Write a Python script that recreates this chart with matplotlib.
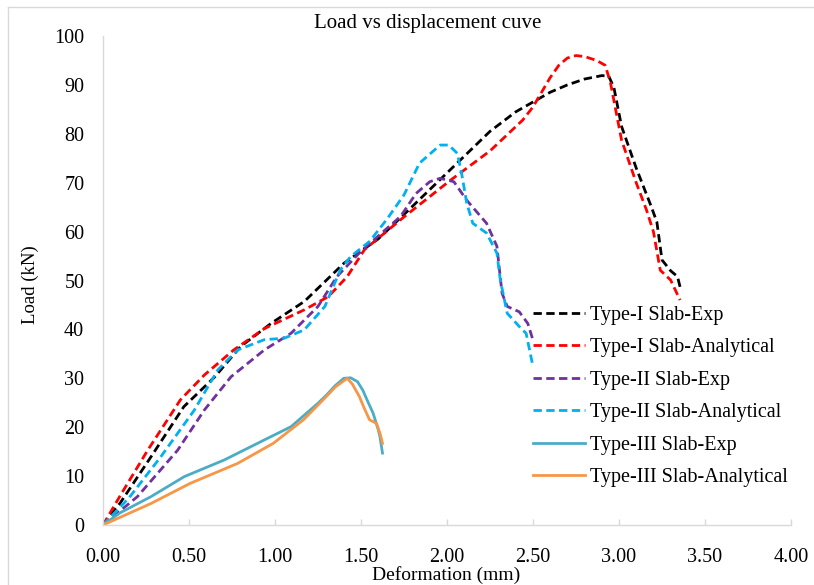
import matplotlib
matplotlib.use("Agg")
import matplotlib.pyplot as plt
from matplotlib.lines import Line2D

plt.rcParams['font.family'] = ['Liberation Serif', 'DejaVu Serif']

# Type-I Slab-Exp
t1e_x = [0, 0.1, 0.28, 0.47, 0.65, 0.8, 0.98, 1.17, 1.4, 1.6, 1.75, 2.0, 2.25, 2.4, 2.5, 2.6, 2.7, 2.8, 2.9, 2.94, 2.97, 3.015, 3.1, 3.18, 3.22, 3.25, 3.3, 3.34, 3.355]
t1e_y = [0, 4.5, 14, 24.2, 30.3, 36.5, 41.3, 45.7, 53.5, 58.5, 63.5, 72, 80.5, 84.5, 86.5, 88.5, 90, 91.2, 91.9, 91.8, 89.5, 81.5, 73, 65.8, 62, 54.2, 52, 50.8, 48.7]
# Type-I Slab-Analytical
t1a_x = [0, 0.1, 0.26, 0.45, 0.59, 0.76, 0.94, 1.17, 1.31, 1.42, 1.52, 1.75, 2.02, 2.25, 2.44, 2.5, 2.55, 2.6, 2.65, 2.7, 2.75, 2.8, 2.87, 2.92, 2.95, 3.015, 3.1, 3.16, 3.2, 3.24, 3.3, 3.355]
t1a_y = [0, 6, 15.3, 25.6, 30.7, 35.8, 40.2, 44, 46.7, 50.8, 56.3, 63, 70.5, 76.5, 82.8, 85.5, 88.5, 91.5, 94, 95.5, 96, 95.8, 95, 94, 90.5, 78.7, 70, 64.4, 60, 52.1, 50.1, 46]
# Type-II Slab-Exp
t2e_x = [0, 0.2, 0.434, 0.589, 0.744, 0.938, 1.093, 1.25, 1.36, 1.5, 1.73, 1.82, 1.9, 1.96, 2.04, 2.115, 2.23, 2.29, 2.32, 2.35, 2.42, 2.47, 2.50]
t2e_y = [0, 5.8, 15.3, 23.5, 30.3, 35.8, 39.2, 44.7, 50.8, 56, 63.1, 67.8, 70.2, 70.9, 70.2, 66.4, 61.7, 57, 47.4, 44.7, 43.6, 41.2, 37.8]
# Type-II Slab-Analytical
t2a_x = [0, 0.15, 0.337, 0.531, 0.667, 0.783, 0.938, 1.054, 1.17, 1.29, 1.38, 1.44, 1.55, 1.65, 1.75, 1.84, 1.96, 2.01, 2.06, 2.085, 2.115, 2.15, 2.23, 2.29, 2.31, 2.35, 2.42, 2.46, 2.50]
t2a_y = [0, 5.5, 14, 23.5, 31.7, 35.8, 37.9, 38.2, 39.9, 44.7, 52.2, 54.9, 58, 62.5, 67.5, 74, 77.7, 77.7, 76, 71.9, 65.8, 61.7, 59.7, 55.6, 50.1, 43.3, 40.6, 39.2, 32.4]
# Type-III Slab-Exp
t3e_x = [0, 0.1, 0.279, 0.473, 0.705, 0.938, 1.093, 1.25, 1.3, 1.35, 1.40, 1.44, 1.48, 1.51, 1.54, 1.57, 1.6, 1.61, 1.625]
t3e_y = [0, 2.5, 5.8, 9.9, 13.3, 17.4, 20.1, 24.9, 26.6, 28.5, 30.0, 30.1, 29.3, 27.6, 25.2, 22.9, 19.5, 18.1, 14.7]
# Type-III Slab-Analytical
t3a_x = [0, 0.279, 0.506, 0.783, 0.99, 1.165, 1.28, 1.35, 1.42, 1.45, 1.49, 1.52, 1.55, 1.59, 1.61, 1.625]
t3a_y = [0, 4.4, 8.5, 12.6, 16.7, 21.5, 25.6, 28.2, 30.0, 28.8, 26.3, 23.8, 21.5, 20.8, 18.8, 16.7]

labels = ["Type-I Slab-Exp", "Type-I Slab-Analytical", "Type-II Slab-Exp",
          "Type-II Slab-Analytical", "Type-III Slab-Exp", "Type-III Slab-Analytical"]
x_ticks = [0, 0.5, 1.0, 1.5, 2.0, 2.5, 3.0, 3.5, 4.0]
y_ticks = [0, 10, 20, 30, 40, 50, 60, 70, 80, 90, 100]

W, H = 814, 585
fig = plt.figure(figsize=(W / 100, H / 100), dpi=100)
ax = fig.add_axes([103 / W, 1 - 525 / H, (791 - 103) / W, (525 - 36) / H])

series = [
    (t1e_x, t1e_y, "#000000", "--"),
    (t1a_x, t1a_y, "#FF0000", "--"),
    (t2e_x, t2e_y, "#7030A0", "--"),
    (t2a_x, t2a_y, "#00B0F0", "--"),
    (t3e_x, t3e_y, "#4BACC6", "-"),
    (t3a_x, t3a_y, "#F79646", "-"),
]
for (xs, ys, c, ls), lab in zip(series, labels):
    if ls == "--":
        ax.plot(xs, ys, color=c, lw=2.0, linestyle=(0, (3, 1.6)), label=lab,
                dash_joinstyle='round', dash_capstyle='butt')
    else:
        ax.plot(xs, ys, color=c, lw=2.0, linestyle="-", label=lab,
                solid_joinstyle='round')

ax.set_xlim(0, 4.0)
ax.set_ylim(0, 100)
ax.set_xticks(x_ticks)
ax.set_xticklabels([f"{v:.2f}" for v in x_ticks])
ax.set_yticks(y_ticks)
ax.set_yticklabels([str(v) for v in y_ticks])
for s in ["top", "right"]:
    ax.spines[s].set_visible(False)
for s in ["left", "bottom"]:
    ax.spines[s].set_color("#D9D9D9")
    ax.spines[s].set_linewidth(1.0)
ax.tick_params(axis="x", colors="#D9D9D9", labelcolor="black", labelsize=14.5,
               direction="in", length=4.3, width=1.0, pad=16.5)
ax.tick_params(axis="y", colors="#D9D9D9", labelcolor="black", labelsize=14.5,
               direction="in", length=0, width=1.0, pad=13.5)

fig.text(427.5 / W, 1 - 28 / H, "Load vs displacement cuve", fontsize=15,
         ha="center", va="baseline")
fig.text(446 / W, 1 - 575 / H, "Deformation (mm)", fontsize=14,
         ha="center", va="center")
fig.text(30 / W, 1 - 284.5 / H, "Load (kN)", fontsize=13.5, rotation=90,
         ha="center", va="center")

leg = ax.legend(loc="upper left", bbox_to_anchor=(0.6246, 0.448), frameon=False,
                fontsize=14.5, handlelength=2.6, handletextpad=0.25, labelspacing=0.66,
                borderaxespad=0, borderpad=0)

# chart-area border (only top and left edges fall inside the image)
fig.add_artist(Line2D([8 / W, 1.0], [1 - 7 / H, 1 - 7 / H], transform=fig.transFigure,
                      color="#D9D9D9", lw=1.0))
fig.add_artist(Line2D([8 / W, 8 / W], [0.0, 1 - 7 / H], transform=fig.transFigure,
                      color="#D9D9D9", lw=1.0))

fig.savefig("out.png", dpi=100)
